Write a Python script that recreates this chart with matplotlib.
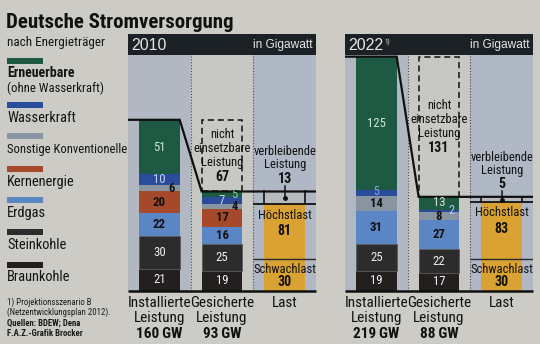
import matplotlib
matplotlib.use("Agg")
import matplotlib.pyplot as plt
from matplotlib import font_manager as fm
from matplotlib.patches import Rectangle

# ---------------------------------------------------------------- fonts
available = {f.name for f in fm.fontManager.ttflist}
NARROW = next((n for n in ["Liberation Sans Narrow", "Roboto Condensed",
                           "Open Sans Condensed", "DejaVu Sans Condensed"]
               if n in available), "Liberation Sans")
WIDE = "Liberation Sans" if "Liberation Sans" in available else "DejaVu Sans"
plt.rcParams["font.family"] = [NARROW, "DejaVu Sans"]

# ---------------------------------------------------------------- data (GW)
sources = ["Braunkohle", "Steinkohle", "Erdgas", "Kernenergie",
           "Sonstige Konventionelle", "Wasserkraft", "Erneuerbare"]
years = ["2010", "2022"]
year_notes = ["", "1)"]

installed_2010 = [21, 30, 22, 20, 6, 10, 51]
secured_2010 = [19, 25, 16, 17, 4, 7, 5]
installed_2022 = [19, 25, 31, 0, 14, 5, 125]
secured_2022 = [17, 22, 27, 0, 8, 2, 13]

installed_total = [160, 219]
secured_total = [93, 88]
unavailable = [67, 131]
remaining = [13, 5]
peak_load = [81, 83]
low_load = [30, 30]

column_labels = ["Installierte\nLeistung", "Gesicherte\nLeistung", "Last"]

# ---------------------------------------------------------------- styling
colors = {
    "Braunkohle": "#231f1e",
    "Steinkohle": "#2c2c2c",
    "Erdgas": "#5b86c6",
    "Kernenergie": "#a6492b",
    "Sonstige Konventionelle": "#8894a2",
    "Wasserkraft": "#2a4c9b",
    "Erneuerbare": "#1e5944",
}
text_colors = {
    "Braunkohle": "#eeeeee",
    "Steinkohle": "#eeeeee",
    "Erdgas": "#121212",
    "Kernenergie": "#121212",
    "Sonstige Konventionelle": "#121212",
    "Wasserkraft": "#c4d2f2",
    "Erneuerbare": "#cfe5d6",
}
side_colors = {"Erneuerbare": "#86d3a6", "Wasserkraft": "#b4c7f2"}
bold_sources = {"Erdgas", "Kernenergie", "Sonstige Konventionelle"}
# (panel, column, source) labels that sit at the right edge of a thin segment
side_labels = {(0, 0, "Sonstige Konventionelle"), (0, 1, "Erneuerbare"),
               (0, 1, "Sonstige Konventionelle"), (1, 1, "Wasserkraft")}
# thin centred label drawn in a lighter blue, nudged upward
blue_center = {(1, 0, "Wasserkraft"): "#8ea9ea"}

PAGE = "#cccbc6"
HEADER = "#1b2125"
COL_BG = ["#b1b8c2", "#c7c7c3", "#b0b8c5"]
ORANGE = "#d9a232"
BOX_FILL = "#b7bbbd"
INK = "#101010"

W = 0.65                 # bar width in column units
PX_PER_GW = 1.07
FIG_W, FIG_H = 540, 344
AX_BOTTOM, AX_TOP = 291, 34
YMAX = (AX_BOTTOM - AX_TOP) / PX_PER_GW
HDR_LO = (AX_BOTTOM - 55) / PX_PER_GW

fig = plt.figure(figsize=(FIG_W / 100, FIG_H / 100), dpi=100, facecolor=PAGE)

# full-page layer in pixel coordinates for title, legend and notes
page = fig.add_axes([0, 0, 1, 1], zorder=0)
page.set_xlim(0, FIG_W)
page.set_ylim(FIG_H, 0)
page.axis("off")

page.text(6, 28, "Deutsche Stromversorgung", fontsize=15, fontweight="bold",
          color="#111", va="baseline", ha="left")
page.text(7, 46, "nach Energieträger", fontsize=9.5, color="#151515",
          va="baseline", ha="left")

legend_rows = [
    ("Erneuerbare", 58, [("Erneuerbare", 73, 10, "bold"),
                         ("(ohne Wasserkraft)", 88, 9.2, "normal")]),
    ("Wasserkraft", 102, [("Wasserkraft", 118, 10.4, "normal")]),
    ("Sonstige Konventionelle", 133, [("Sonstige Konventionelle", 150, 9.1, "normal")]),
    ("Kernenergie", 166, [("Kernenergie", 182, 10.4, "normal")]),
    ("Erdgas", 197, [("Erdgas", 213, 10.4, "normal")]),
    ("Steinkohle", 229, [("Steinkohle", 245, 10.4, "normal")]),
    ("Braunkohle", 262, [("Braunkohle", 277, 10.4, "normal")]),
]
for src, ytop, lines in legend_rows:
    page.add_patch(Rectangle((7, ytop), 36, 6, color=colors[src], lw=0))
    for txt, yc, fs, fw in lines:
        page.text(7, yc, txt, fontsize=fs, fontweight=fw, color="#141414",
                  va="center", ha="left")

notes = [("1) Projektionsszenario B", 302, "normal"),
         ("(Netzentwicklungsplan 2012).", 312, "normal"),
         ("Quellen: BDEW; Dena", 323, "bold"),
         ("F.A.Z.-Grafik Brocker", 333, "bold")]
for txt, yc, fw in notes:
    page.text(7, yc, txt, fontsize=6.3, fontweight=fw, color="#1a1a1a",
              va="center", ha="left")

# ---------------------------------------------------------------- panels
panel_left = [128, 345]
panel_width = 188
stacks = [[installed_2010, secured_2010], [installed_2022, secured_2022]]

for p in range(2):
    ax = fig.add_axes([panel_left[p] / FIG_W, (FIG_H - AX_BOTTOM) / FIG_H,
                       panel_width / FIG_W, (AX_BOTTOM - AX_TOP) / FIG_H],
                      zorder=1)
    ax.set_xlim(-0.5, 2.5)
    ax.set_ylim(0, YMAX)
    ax.axis("off")

    # column backgrounds and separators
    for c in range(3):
        ax.add_patch(Rectangle((c - 0.5, 0), 1, HDR_LO, color=COL_BG[c],
                               lw=0, zorder=0))
    ax.vlines([0.5, 1.5], 0, HDR_LO, colors="#4a4a4a", lw=0.8,
              linestyles=(0, (1, 1.6)), zorder=1)

    # header bar
    ax.add_patch(Rectangle((-0.5, HDR_LO), 3, YMAX - HDR_LO, color=HEADER,
                           lw=0, zorder=6, clip_on=False))
    ymid = (HDR_LO + YMAX) / 2
    yt = ax.text(-0.45, ymid - 0.5, years[p], fontsize=11.5, family=WIDE,
                 color="#e6e6e6", va="center", ha="left", zorder=7)
    if year_notes[p]:
        ax.annotate(year_notes[p], xy=(1, 1), xycoords=yt, xytext=(0.8, -1),
                    textcoords="offset points", fontsize=5, color="#e6e6e6",
                    va="top", ha="left", zorder=7)
    ax.text(2.44, ymid - 0.5, "in Gigawatt", fontsize=8.6, family=WIDE,
            color="#e6e6e6", va="center", ha="right", zorder=7)

    # stacked bars: installed and secured capacity
    for col, values in enumerate(stacks[p]):
        bottom = 0
        for src, v in zip(sources, values):
            if v == 0:
                continue
            ax.bar(col, v, W, bottom=bottom, color=colors[src],
                   edgecolor="#5c5c5c" if src == "Steinkohle" else "none",
                   lw=0.6, zorder=2)
            yc = bottom + v / 2
            key = (p, col, src)
            if key in side_labels:
                ax.text(col + 0.2, yc, str(v), fontsize=9,
                        color=side_colors.get(src, "#121212"),
                        fontweight="bold" if src not in side_colors else "normal",
                        va="center", ha="center", zorder=5)
            elif key in blue_center:
                ax.text(col, yc + 1.5, str(v), fontsize=8.5,
                        color=blue_center[key], va="center", ha="center",
                        zorder=5)
            else:
                ax.text(col, yc, str(v), fontsize=9.2, color=text_colors[src],
                        fontweight="bold" if src in bold_sources else "normal",
                        va="center", ha="center", zorder=5)
            bottom += v

    # unavailable capacity (dashed outline above the secured bar)
    ax.add_patch(Rectangle((1 - W / 2, secured_total[p]), W, unavailable[p],
                           fill=False, ec=INK, lw=1.1, ls=(0, (4, 2.5)),
                           zorder=3))
    ub = (secured_total[p] + installed_total[p]) / 2
    for txt, dy, fw, fs in [("nicht", 19.5, "normal", 9),
                            ("einsetzbare", 7, "normal", 9),
                            ("Leistung", -6.5, "normal", 9),
                            (str(unavailable[p]), -20, "bold", 10)]:
        ax.text(1, ub + dy, txt, fontsize=fs, fontweight=fw, color="#111",
                va="center", ha="center", zorder=5)

    # step line from installed to secured capacity
    ax.plot([-0.5, W / 2, 1 - W / 2, 2.5],
            [installed_total[p], installed_total[p], secured_total[p],
             secured_total[p]], color=INK, lw=1.6, zorder=4,
            solid_joinstyle="miter")

    # load column
    ax.bar(2, peak_load[p], W, color=ORANGE, zorder=2)
    ax.hlines(low_load[p], 1.5, 2.5, colors="#2a2a2a", lw=1.0, zorder=3)
    ax.add_patch(Rectangle((2 - W / 2, peak_load[p]), W, remaining[p],
                           color=BOX_FILL, lw=0, zorder=2))
    ax.hlines(peak_load[p], 1.5, 2.5, colors=INK, lw=1.3, zorder=3)
    ax.vlines([2 - W / 2, 2 + W / 2], peak_load[p],
              peak_load[p] + remaining[p], colors=INK, lw=1.2, zorder=3)
    ax.plot([2, 2], [secured_total[p] + 5.5, peak_load[p] + remaining[p] * 0.45],
            color=INK, lw=1.1, zorder=4)
    ax.plot([2], [peak_load[p] + remaining[p] * 0.45], "o", ms=2.5, color=INK,
            zorder=4)
    st = secured_total[p]
    ax.text(2, st + 37, "verbleibende", fontsize=9, color="#111",
            va="center", ha="center", zorder=5)
    ax.text(2, st + 25, "Leistung", fontsize=9, color="#111",
            va="center", ha="center", zorder=5)
    ax.text(2, st + 12, str(remaining[p]), fontsize=10, fontweight="bold",
            color="#111", va="center", ha="center", zorder=5)
    ax.text(2, peak_load[p] - 10, "Höchstlast", fontsize=9, color="#111",
            va="center", ha="center", zorder=5)
    ax.text(2, peak_load[p] - 25, str(peak_load[p]), fontsize=10,
            fontweight="bold", color="#111", va="center", ha="center", zorder=5)
    ax.text(2, low_load[p] - 9.5, "Schwachlast", fontsize=9, color="#111",
            va="center", ha="center", zorder=5)
    ax.text(2, low_load[p] - 21.5, str(low_load[p]), fontsize=10,
            fontweight="bold", color="#111", va="center", ha="center", zorder=5)

    # baseline
    ax.hlines(0, -0.5, 2.5, colors=INK, lw=1.8, zorder=4, clip_on=False)

    # column captions
    totals = [installed_total[p], secured_total[p]]
    for c, lab in enumerate(column_labels):
        for k, line in enumerate(lab.split("\n")):
            ax.text(c, -11.2 - 14 * k, line, fontsize=11, color="#111",
                    va="center", ha="center", clip_on=False)
        if c < 2:
            ax.text(c, -40.2, f"{totals[c]}\u2009GW", fontsize=11,
                    fontweight="bold", color="#111", va="center", ha="center",
                    clip_on=False)

fig.savefig("out.png", dpi=100, facecolor=PAGE)
